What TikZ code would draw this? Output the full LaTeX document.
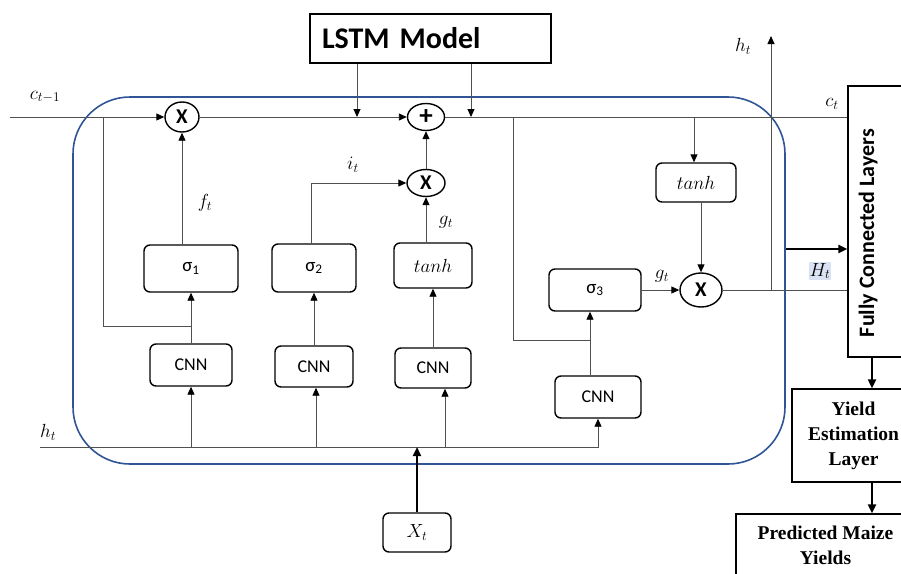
\RequirePackage{fix-cm}
\documentclass[tikz,border=0pt]{standalone}
\usepackage[no-math]{fontspec}
\setmainfont{Carlito}
\newfontfamily\timesfont{Liberation Serif}
\usetikzlibrary{arrows.meta,shapes.geometric}

\definecolor{cellblue}{RGB}{47,85,151}
\definecolor{wiregray}{RGB}{80,80,80}
\definecolor{hlblue}{RGB}{218,227,243}

\tikzset{
	gate/.style={draw, line width=1.4pt, rounded corners=6pt, inner sep=0pt, font=\fontsize{19}{22}\selectfont},
	cnnbox/.style={gate, font=\fontsize{18}{21}\selectfont},
	op/.style={draw, ellipse, line width=1.4pt, inner sep=0pt, font=\fontsize{21}{24}\selectfont\bfseries},
	outbox/.style={draw, line width=1.4pt, inner sep=0pt},
	wire/.style={draw=wiregray, line width=0.9pt},
	arr/.style={wire, -{Triangle[length=8pt,width=7pt,color=black]}},
	bigarr/.style={draw=black, line width=2.2pt, -{Triangle[length=9pt,width=8pt]}},
	lbl/.style={font=\fontsize{19}{22}\selectfont}
}

\begin{document}
\begin{tikzpicture}[x=1pt,y=1pt,yscale=-1,xscale=1]
	\useasboundingbox (0,0) rectangle (901,573);
	\clip (0,0) rectangle (901,573);

	%Shape: cell border
	\draw[cellblue, line width=1.6pt, rounded corners=57pt] (73,97) rectangle (785,464);

	%Shape: LSTM model box
	\node[outbox, line width=1.3pt, minimum height=49pt, text width=217pt, inner xsep=12pt, align=left, font=\fontsize{30}{32}\selectfont\bfseries] (lstm) at (430.5,38.5) {LSTM Model};

	%Shape: gates
	\node[gate, minimum width=94pt, minimum height=47pt] (sig1) at (191,268.5) {σ\textsubscript{1}};
	\node[gate, minimum width=84pt, minimum height=48pt] (sig2) at (314,268) {σ\textsubscript{2}};
	\node[gate, minimum width=78pt, minimum height=45pt, font=\fontsize{19}{22}\selectfont] (tanh1) at (433,265.5) {$tanh$};
	\node[gate, minimum width=92pt, minimum height=42pt] (sig3) at (595,290) {σ\textsubscript{3}};
	\node[gate, minimum width=80pt, minimum height=39pt, font=\fontsize{19}{22}\selectfont] (tanh2) at (696,182.5) {$tanh$};

	%Shape: CNN blocks
	\node[cnnbox, minimum width=82pt, minimum height=42pt] (cnn1) at (191,365) {CNN};
	\node[cnnbox, minimum width=78pt, minimum height=41pt] (cnn2) at (314,366.5) {CNN};
	\node[cnnbox, minimum width=76pt, minimum height=40pt] (cnn3) at (433,368) {CNN};
	\node[cnnbox, minimum width=86pt, minimum height=42pt] (cnn4) at (598,397) {CNN};
	\node[gate, minimum width=68pt, minimum height=39pt, font=\fontsize{19}{22}\selectfont] (xt) at (417,532.5) {$X_t$};

	%Shape: pointwise operations
	\node[op, minimum width=34pt, minimum height=30pt] (mulf) at (182,117) {X};
	\node[op, minimum width=37pt, minimum height=27pt, font=\fontsize{27}{27}\selectfont\bfseries] (plus) at (426,117) {+};
	\node[op, minimum width=38pt, minimum height=27pt] (muli) at (426,183) {X};
	\node[op, minimum width=42pt, minimum height=34pt] (mulo) at (701,290) {X};

	%Shape: output head
	\node[outbox, minimum width=67pt, minimum height=271pt] (fc) at (881.5,221.5) {};
	\node[rotate=90, font=\fontsize{22}{24}\selectfont\bfseries] (fctext) at (868,233) {Fully Connected Layers};
	\node[outbox, minimum width=123pt, minimum height=93pt, align=center, font=\timesfont\bfseries\fontsize{19.5}{25}\selectfont] (yel) at (853.5,435.5) {Yield\\Estimation\\Layer};
	\node[outbox, minimum width=179pt, minimum height=63pt, align=center, font=\timesfont\bfseries\fontsize{19.5}{25}\selectfont] (pred) at (825.5,545.5) {Predicted Maize\\Yields};

	%Shape: junction points
	\coordinate (cin) at (10,117);
	\coordinate (hin) at (40,447);
	\coordinate (lm1) at (357,117);
	\coordinate (lm2) at (471,117);
	\coordinate (fb) at (191,326);
	\coordinate (fbtop) at (103,117);
	\coordinate (fbend) at (112,117);
	\coordinate (split) at (513,117);
	\coordinate (join) at (590,340);
	\coordinate (tap) at (694,117);
	\coordinate (hup) at (771,290);
	\coordinate (hout) at (771,36);
	\coordinate (cellout) at (786,249);
	\coordinate (headx) at (872,0);

	% cell state
	\draw[arr] (cin) -- (mulf);
	\draw[arr] (mulf) -- (plus);
	\draw[wire] (plus) -- (plus -| fc.west);
	\draw[arr] (lstm.south -| lm1) -- (lm1);
	\draw[arr] (lstm.south -| lm2) -- (lm2);

	% forget gate
	\draw[arr] (cnn1) -- (sig1);
	\draw[wire] (fb) -| (fbtop) -- (fbend);
	\draw[arr] (sig1.north -| mulf) -- (mulf);

	% input gate
	\draw[arr] (cnn2) -- (sig2);
	\draw[arr] ([xshift=-3pt]sig2.north) |- (muli);
	\draw[arr] (cnn3) -- (tanh1);
	\draw[arr] (tanh1.north -| muli) -- (muli);
	\draw[arr] (muli) -- (plus);

	% hidden state and input
	\draw[arr] (hin) -| (cnn4);
	\draw[arr] (cnn1 |- hin) -- (cnn1);
	\draw[arr] ([xshift=2pt]cnn2.south |- hin) -- ([xshift=2pt]cnn2.south);
	\draw[arr] ([xshift=12pt]cnn3.south |- hin) -- ([xshift=12pt]cnn3.south);
	\draw[bigarr] (xt) -- (xt |- hin);

	% output gate
	\draw[wire] (split) |- (join);
	\draw[arr] (cnn4.north -| join) -- (sig3.south -| join);
	\draw[arr] (sig3) -- (mulo);
	\draw[arr] (tap) -- (tap |- tanh2.north);
	\draw[arr] (tanh2.south -| mulo) -- (mulo);
	\draw[wire] (mulo) -- (mulo -| fc.west);
	\draw[arr] (hup) -- (hout);

	% head
	\draw[bigarr] (cellout) -- (cellout -| fc.west);
	\draw[bigarr] (fc.south -| headx) -- (yel.north -| headx);
	\draw[bigarr] (yel.south -| headx) -- (pred.north -| headx);

	% Text Node
	\node[lbl] (ctm1) at (45,97) {$c_{t-1}$};
	% Text Node
	\node[lbl] (ct) at (832,104) {$c_t$};
	% Text Node
	\node[lbl] (ft) at (205,203) {$f_t$};
	% Text Node
	\node[lbl] (it) at (353,165) {$i_t$};
	% Text Node
	\node[lbl] (gt1) at (446,222) {$g_t$};
	% Text Node
	\node[lbl] (gt2) at (662,276) {$g_t$};
	% Text Node
	\node[lbl] (ht1) at (48,432) {$h_t$};
	% Text Node
	\node[lbl] (ht2) at (743,46) {$h_t$};
	% Text Node
	\node[lbl, fill=hlblue, inner sep=1pt] (Ht) at (820,271) {$H_t$};

\end{tikzpicture}
\end{document}
